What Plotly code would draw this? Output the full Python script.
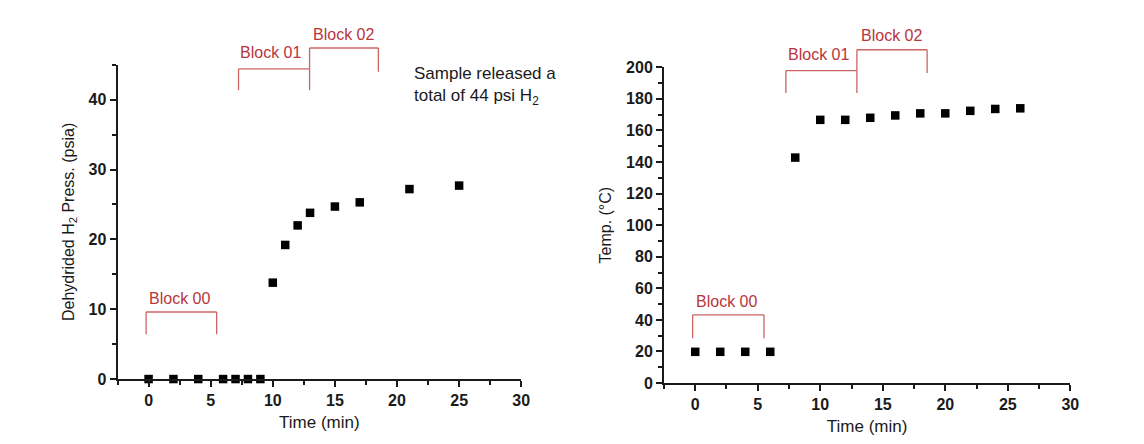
import plotly.graph_objects as go

# ---------------- data ----------------
press_time = [0, 2, 4, 6, 7, 8, 9, 10, 11, 12, 13, 15, 17, 21, 25]
press_vals = [0, 0, 0, 0, 0, 0, 0, 13.8, 19.2, 22.0, 23.8, 24.7, 25.3, 27.2, 27.7]

temp_time = [0, 2, 4, 6, 8, 10, 12, 14, 16, 18, 20, 22, 24, 26]
temp_vals = [19.8, 19.8, 19.8, 19.8, 142.8, 166.7, 166.7, 168.0, 169.5, 170.8, 170.8, 172.4, 173.6, 174.0]

x_ticks = [0, 5, 10, 15, 20, 25, 30]
press_ticks = [0, 10, 20, 30, 40]
temp_ticks = [0, 20, 40, 60, 80, 100, 120, 140, 160, 180, 200]

block_labels = ["Block 00", "Block 01", "Block 02"]

# ---------------- layout constants ----------------
W, H = 1144, 444
X_RANGE = [-2.5, 30]
P_RANGE = [0, 45]
T_RANGE = [0, 200]

# plot areas in pixels (left, right, top, bottom)
L_AREA = (110.4, 517.3, 50.7, 377.5)
R_AREA = (661.2, 1070.7, 53.3, 381.7)

def dom_x(a):
    return [a[0] / W, a[1] / W]

def dom_y(a):
    return [1 - a[3] / H, 1 - a[2] / H]

def fx(v, rng=X_RANGE):
    return (v - rng[0]) / (rng[1] - rng[0])

def fy(v, rng):
    return (v - rng[0]) / (rng[1] - rng[0])

RED_LINE = "#cc6464"
RED_TEXT = "#b8363c"
FONT = "Liberation Sans, Arial, sans-serif"
INK = "#1a1a1a"

fig = go.Figure()

marker = dict(symbol="square", size=8.5, color="black")
fig.add_trace(go.Scatter(x=press_time, y=press_vals, mode="markers", marker=marker,
                         cliponaxis=False, xaxis="x", yaxis="y", showlegend=False))
fig.add_trace(go.Scatter(x=temp_time, y=temp_vals, mode="markers", marker=marker,
                         cliponaxis=False, xaxis="x2", yaxis="y2", showlegend=False))

axis_common = dict(
    showline=True, linecolor=INK, linewidth=2, mirror=False,
    ticks="outside", ticklen=6, tickwidth=2, tickcolor=INK,
    showgrid=False, zeroline=False,
    tickfont=dict(family=FONT, size=16, color=INK, weight="bold"),
)

def xaxis_cfg(domain, anchor):
    return dict(axis_common, domain=domain, anchor=anchor, range=X_RANGE,
                tickmode="array", tickvals=x_ticks, ticktext=[str(t) for t in x_ticks],
                minor=dict(ticks="outside", ticklen=3.5, tickwidth=1.5, tickcolor=INK, dtick=2.5, tick0=0),
                title=dict(text="Time (min)", font=dict(family=FONT, size=17, color=INK), standoff=8))

fig.update_layout(
    width=W, height=H,
    margin=dict(l=0, r=0, t=0, b=0),
    paper_bgcolor="white", plot_bgcolor="white",
    xaxis=xaxis_cfg(dom_x(L_AREA), "y"),
    xaxis2=xaxis_cfg(dom_x(R_AREA), "y2"),
    yaxis=dict(axis_common, domain=dom_y(L_AREA), anchor="x", range=P_RANGE,
               tickmode="array", tickvals=press_ticks, ticktext=[str(t) for t in press_ticks],
               minor=dict(ticks="outside", ticklen=3.5, tickwidth=1.5, tickcolor=INK, dtick=5, tick0=0),
               title=dict(text="Dehydrided H<sub>2</sub> Press. (psia)",
                          font=dict(family=FONT, size=16, color=INK), standoff=10)),
    yaxis2=dict(axis_common, domain=dom_y(R_AREA), anchor="x2", range=T_RANGE,
                tickmode="array", tickvals=temp_ticks, ticktext=[str(t) for t in temp_ticks],
                minor=dict(ticks="outside", ticklen=3.5, tickwidth=1.5, tickcolor=INK, dtick=10, tick0=0),
                title=dict(text="Temp. (°C)",
                           font=dict(family=FONT, size=16, color=INK), standoff=10)),
)

# ---------------- bracket annotations ----------------
# (x_left, x_right, y_top, y_bottom_left, y_bottom_right) in data units
left_brackets = [
    (-0.2, 5.48, 9.6, 6.4, 6.4),
    (7.24, 12.96, 44.4, 41.35, 41.35),
    (12.96, 18.5, 47.4, 44.4, 44.0),
]
left_label_pos = [(2.48, 11.5), (9.85, 46.7), (15.7, 49.3)]

right_brackets = [
    (-0.21, 5.5, 43.2, 28.4, 28.4),
    (7.25, 12.93, 197.9, 183.7, 183.7),
    (12.93, 18.55, 211.1, 197.9, 196.3),
]
right_label_pos = [(2.48, 51.4), (9.84, 208.0), (15.73, 220.0)]

shapes = []
annotations = []

def add_brackets(brackets, labels_pos, yrng, xr, yr):
    for (x0, x1, yt, yb0, yb1), (lx, ly), lab in zip(brackets, labels_pos, block_labels):
        line = dict(color=RED_LINE, width=1.3)
        for (a, b, c, d) in [(x0, yb0, x0, yt), (x0, yt, x1, yt), (x1, yt, x1, yb1)]:
            shapes.append(dict(type="line", xref=xr + " domain", yref=yr + " domain",
                               x0=fx(a), y0=fy(b, yrng), x1=fx(c), y1=fy(d, yrng),
                               line=line, layer="above"))
        annotations.append(dict(text=lab, xref=xr + " domain", yref=yr + " domain",
                                x=fx(lx), y=fy(ly, yrng), xanchor="center", yanchor="middle",
                                showarrow=False, font=dict(family=FONT, size=16, color=RED_TEXT)))

add_brackets(left_brackets, left_label_pos, P_RANGE, "x", "y")
add_brackets(right_brackets, right_label_pos, T_RANGE, "x2", "y2")

annotations.append(dict(
    text="Sample released a<br>total of 44 psi H<sub>2</sub>",
    xref="paper", yref="paper", x=407.3 / W, y=1 - 73 / H,
    xanchor="left", yanchor="middle", align="left", showarrow=False,
    font=dict(family=FONT, size=17, color=INK)))

fig.update_layout(shapes=shapes, annotations=annotations)

fig.write_html("out.html")
